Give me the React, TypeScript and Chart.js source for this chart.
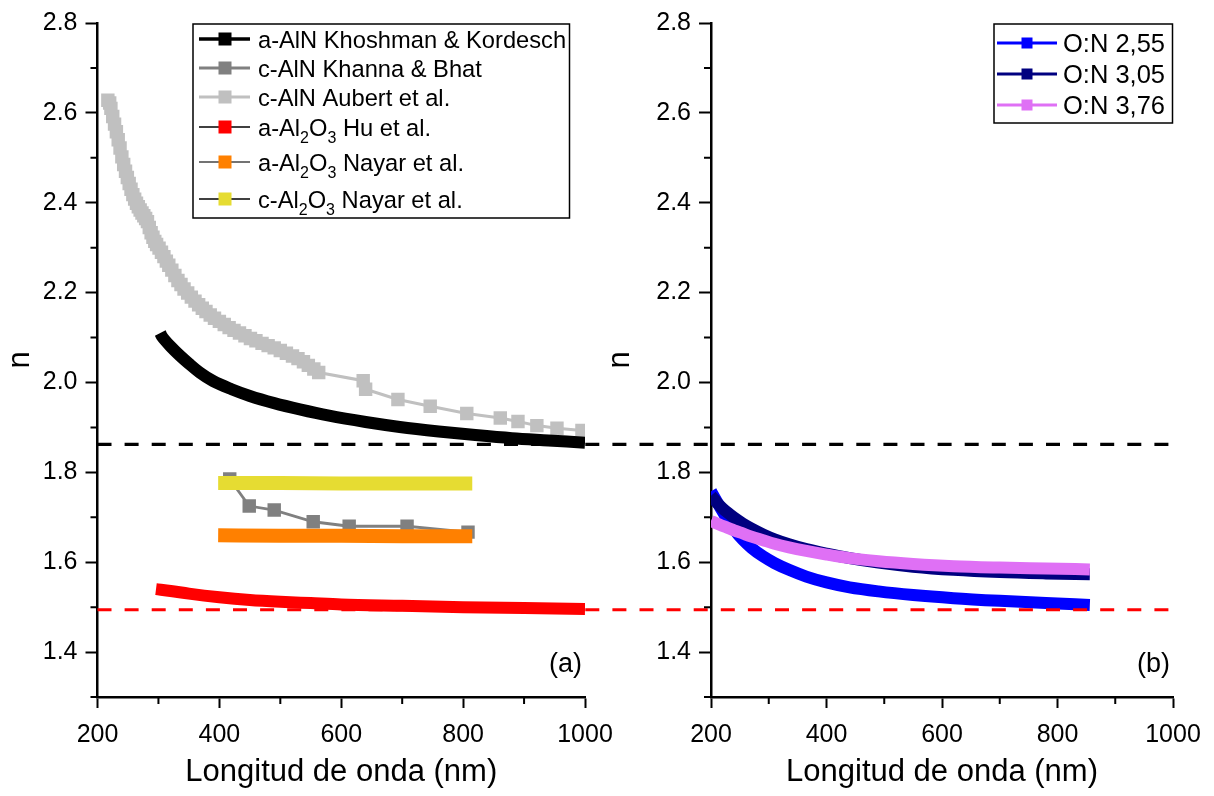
import React, { useEffect, useRef } from 'react';
import { Chart, registerables } from 'chart.js';

Chart.register(...registerables);

const FONT = '"Liberation Sans", Arial, Helvetica, sans-serif';

// ---- axes ----
const X_MIN = 200;
const X_MAX = 1000;
const Y_MIN = 1.3;
const Y_MAX = 2.8;
const X_TICKS = [200, 400, 600, 800, 1000];
const X_MINOR = [300, 500, 700, 900];
const Y_TICKS = [1.4, 1.6, 1.8, 2.0, 2.2, 2.4, 2.6, 2.8];
const Y_MINOR = [1.3, 1.5, 1.7, 1.9, 2.1, 2.3, 2.5, 2.7];
const X_TITLE = 'Longitud de onda (nm)';
const Y_TITLE = 'n';

// ---- reference (bulk) lines ----
const REF_ALN = 1.862;
const REF_AL2O3 = 1.494;

// ---- panel (a) ----
const KHOSHMAN_NM = [303, 306, 310, 320, 335, 350, 368, 390, 420, 450, 490, 532, 580, 640, 696, 760, 820, 880, 940, 1000];
const KHOSHMAN_N = [2.110, 2.102, 2.095, 2.080, 2.060, 2.042, 2.022, 2.003, 1.985, 1.970, 1.954, 1.940, 1.926, 1.912, 1.901, 1.891, 1.883, 1.876, 1.871, 1.866];

const KHANNA_NM = [417, 449, 490, 554, 613, 708, 808];
const KHANNA_N = [1.785, 1.725, 1.716, 1.690, 1.680, 1.680, 1.667];

const AUBERT_NM = [
  217, 220, 222, 225, 228, 231, 234, 237, 240, 243, 246, 249, 252, 255, 258, 261, 264, 267, 270, 273,
  276, 279, 282, 285, 288, 291, 294, 297, 301, 305, 309, 313, 317, 322, 327, 332, 337, 342, 348, 354,
  360, 366, 372, 378, 385, 392, 400, 408, 416, 424, 433, 442, 451, 460, 470, 480, 490, 500, 510, 520,
  529, 538, 546, 555, 563, 636, 640, 693, 746, 806, 861, 890, 921, 954, 995,
];
const AUBERT_N = [
  2.628, 2.622, 2.610, 2.592, 2.575, 2.558, 2.540, 2.522, 2.502, 2.485, 2.470, 2.456, 2.443, 2.430, 2.418, 2.408, 2.399, 2.391, 2.384, 2.377,
  2.371, 2.365, 2.358, 2.345, 2.333, 2.323, 2.314, 2.307, 2.299, 2.290, 2.280, 2.270, 2.261, 2.250, 2.238, 2.227, 2.218, 2.208, 2.199, 2.190,
  2.181, 2.173, 2.165, 2.158, 2.150, 2.143, 2.136, 2.129, 2.122, 2.116, 2.110, 2.104, 2.098, 2.093, 2.087, 2.082, 2.077, 2.071, 2.065, 2.059,
  2.053, 2.046, 2.038, 2.030, 2.022, 2.004, 1.985, 1.962, 1.947, 1.931, 1.921, 1.913, 1.904, 1.898, 1.893,
];

const HU_NM = [296, 320, 350, 400, 450, 500, 550, 600, 700, 800, 900, 1000];
const HU_N = [1.540, 1.536, 1.530, 1.522, 1.516, 1.512, 1.509, 1.506, 1.503, 1.500, 1.498, 1.496];

const NAYAR_NM = [398, 500, 600, 700, 815];
const NAYAR_A_N = [1.660, 1.659, 1.659, 1.658, 1.658];
const NAYAR_C_N = [1.776, 1.776, 1.775, 1.775, 1.775];

// ---- panel (b) ----
const ON_NM = [200, 210, 220, 230, 240, 255, 270, 290, 310, 335, 365, 400, 440, 490, 550, 620, 700, 780, 856];
const ON255_N = [1.758, 1.735, 1.713, 1.692, 1.673, 1.650, 1.632, 1.613, 1.598, 1.583, 1.568, 1.555, 1.544, 1.535, 1.527, 1.520, 1.514, 1.509, 1.505];
const ON305_N = [1.748, 1.733, 1.720, 1.709, 1.699, 1.686, 1.675, 1.662, 1.651, 1.640, 1.629, 1.619, 1.609, 1.599, 1.590, 1.583, 1.578, 1.575, 1.573];
const ON376_N = [1.692, 1.686, 1.681, 1.676, 1.671, 1.664, 1.657, 1.649, 1.641, 1.633, 1.625, 1.617, 1.609, 1.602, 1.596, 1.591, 1.588, 1.586, 1.584];

const LEFT_LABELS = [
  'a-AlN Khoshman & Kordesch',
  'c-AlN Khanna & Bhat',
  'c-AlN Aubert et al.',
  'a-Al₂O₃ Hu et al.',
  'a-Al₂O₃ Nayar et al.',
  'c-Al₂O₃ Nayar et al.',
];
const RIGHT_LABELS = ['O:N 2,55', 'O:N 3,05', 'O:N 3,76'];

const zip = (xs: number[], ys: number[]) => xs.map((x, i) => ({ x, y: ys[i] }));

function drawRichText(ctx: CanvasRenderingContext2D, text: string, x: number, yMid: number, size: number) {
  const base = yMid + size * 0.36;
  const subSize = Math.round(size * 0.66);
  let cx = x;
  const parts = text.split(/([₀-₉]+)/);
  ctx.textAlign = 'left';
  ctx.textBaseline = 'alphabetic';
  for (const p of parts) {
    if (!p) continue;
    if (/^[₀-₉]+$/.test(p)) {
      const digits = Array.from(p).map((c) => String.fromCharCode(c.charCodeAt(0) - 0x2080 + 48)).join('');
      ctx.font = `${subSize}px ${FONT}`;
      ctx.fillText(digits, cx, base + size * 0.3);
      cx += ctx.measureText(digits).width;
    } else {
      ctx.font = `${size}px ${FONT}`;
      ctx.fillText(p, cx, base);
      cx += ctx.measureText(p).width;
    }
  }
}

type LegendEntry = { label: string; line: string; lineWidth: number; marker: string };
type LegendLayout = {
  box: [number, number, number, number];
  rows: number[];
  lineFrom: number;
  lineTo: number;
  markerX: number;
  markerSize: number;
  textX: number;
  fontSize: number;
};

function legendPlugin(entries: LegendEntry[], lay: LegendLayout) {
  return {
    id: 'customLegend',
    afterDraw(chart: any) {
      const { ctx, chartArea: ca } = chart;
      ctx.save();
      ctx.strokeStyle = '#000';
      ctx.lineWidth = 1.5;
      ctx.strokeRect(ca.left + lay.box[0], ca.top + lay.box[1], lay.box[2] - lay.box[0], lay.box[3] - lay.box[1]);
      entries.forEach((e, i) => {
        const y = ca.top + lay.rows[i];
        ctx.beginPath();
        ctx.strokeStyle = e.line;
        ctx.lineWidth = e.lineWidth;
        ctx.moveTo(ca.left + lay.lineFrom, y);
        ctx.lineTo(ca.left + lay.lineTo, y);
        ctx.stroke();
        ctx.fillStyle = e.marker;
        const s = lay.markerSize;
        ctx.fillRect(ca.left + lay.markerX - s / 2, y - s / 2, s, s);
        ctx.fillStyle = '#000';
        drawRichText(ctx, e.label, ca.left + lay.textX, y, lay.fontSize);
      });
      ctx.restore();
    },
  };
}

function panelLabelPlugin(text: string) {
  return {
    id: 'panelLabel',
    afterDraw(chart: any) {
      const { ctx, chartArea: ca } = chart;
      ctx.save();
      ctx.fillStyle = '#000';
      ctx.font = `27px ${FONT}`;
      ctx.textAlign = 'right';
      ctx.textBaseline = 'middle';
      ctx.fillText(text, ca.right - 3, ca.bottom - 32);
      ctx.restore();
    },
  };
}

const minorTicksPlugin = {
  id: 'minorTicks',
  afterDraw(chart: any) {
    const { ctx, chartArea: ca, scales } = chart;
    ctx.save();
    ctx.strokeStyle = '#000';
    ctx.lineWidth = 2;
    ctx.beginPath();
    X_MINOR.forEach((v) => {
      const px = scales.x.getPixelForValue(v);
      ctx.moveTo(px, ca.bottom);
      ctx.lineTo(px, ca.bottom + 7);
    });
    Y_MINOR.forEach((v) => {
      const py = scales.y.getPixelForValue(v);
      ctx.moveTo(ca.left - 7, py);
      ctx.lineTo(ca.left, py);
    });
    ctx.stroke();
    ctx.restore();
  },
};

function makeScales(yWidth: number) {
  return {
    x: {
      type: 'linear',
      min: X_MIN,
      max: X_MAX,
      afterFit: (s: any) => {
        s.height = 99;
      },
      afterBuildTicks: (s: any) => {
        s.ticks = X_TICKS.map((v) => ({ value: v }));
      },
      border: { display: true, color: '#000', width: 2.5 },
      grid: { display: true, drawOnChartArea: false, drawTicks: true, tickLength: 11, tickWidth: 2, tickColor: '#000' },
      ticks: {
        color: '#000',
        font: { family: FONT, size: 25 },
        padding: 12,
        maxRotation: 0,
        minRotation: 0,
        autoSkip: false,
        callback: (v: any) => String(v),
      },
      title: { display: true, text: X_TITLE, color: '#000', font: { family: FONT, size: 31 }, padding: { top: 0, bottom: 5 } },
    },
    y: {
      type: 'linear',
      min: Y_MIN,
      max: Y_MAX,
      afterFit: (s: any) => {
        s.width = yWidth;
      },
      afterBuildTicks: (s: any) => {
        s.ticks = Y_TICKS.map((v) => ({ value: v }));
      },
      border: { display: true, color: '#000', width: 2.5 },
      grid: { display: true, drawOnChartArea: false, drawTicks: true, tickLength: 12, tickWidth: 2, tickColor: '#000' },
      ticks: {
        color: '#000',
        font: { family: FONT, size: 25 },
        padding: 8,
        autoSkip: false,
        callback: (v: any) => Number(v).toFixed(1),
      },
      title: { display: true, text: Y_TITLE, color: '#000', font: { family: FONT, size: 31 }, padding: { top: 2, bottom: 0 } },
    },
  };
}

const bandLine = (label: string, data: any[], color: string, width: number, order: number) => ({
  label,
  data,
  borderColor: color,
  backgroundColor: color,
  borderWidth: width,
  borderCapStyle: 'butt',
  pointRadius: 0,
  cubicInterpolationMode: 'monotone',
  order,
  clip: 0,
});

export default function App() {
  const leftRef = useRef<HTMLCanvasElement>(null);
  const rightRef = useRef<HTMLCanvasElement>(null);

  useEffect(() => {
    if (!leftRef.current || !rightRef.current) return;

    const leftEntries: LegendEntry[] = [
      { label: LEFT_LABELS[0], line: '#000000', lineWidth: 3.5, marker: '#000000' },
      { label: LEFT_LABELS[1], line: '#808080', lineWidth: 3, marker: '#808080' },
      { label: LEFT_LABELS[2], line: '#c0c0c0', lineWidth: 3, marker: '#c0c0c0' },
      { label: LEFT_LABELS[3], line: '#000000', lineWidth: 1.3, marker: '#ff0000' },
      { label: LEFT_LABELS[4], line: '#444444', lineWidth: 1.3, marker: '#ff8000' },
      { label: LEFT_LABELS[5], line: '#000000', lineWidth: 1.3, marker: '#e6dc32' },
    ];

    const left = new Chart(leftRef.current, {
      type: 'line',
      data: {
        datasets: [
          bandLine(LEFT_LABELS[0], zip(KHOSHMAN_NM, KHOSHMAN_N), '#000000', 12, 3) as any,
          {
            label: LEFT_LABELS[1],
            data: zip(KHANNA_NM, KHANNA_N),
            borderColor: '#808080',
            backgroundColor: '#808080',
            borderWidth: 2.8,
            pointStyle: 'rect',
            pointRadius: 9.5,
            pointBorderWidth: 0,
            order: 2,
          },
          {
            label: LEFT_LABELS[2],
            data: zip(AUBERT_NM, AUBERT_N),
            borderColor: '#c0c0c0',
            backgroundColor: '#c0c0c0',
            borderWidth: 3,
            pointStyle: 'rect',
            pointRadius: 9.5,
            pointBorderWidth: 0,
            order: 4,
          },
          bandLine(LEFT_LABELS[3], zip(HU_NM, HU_N), '#ff0000', 12, 3) as any,
          bandLine(LEFT_LABELS[4], zip(NAYAR_NM, NAYAR_A_N), '#ff8000', 14, 0) as any,
          bandLine(LEFT_LABELS[5], zip(NAYAR_NM, NAYAR_C_N), '#e6dc32', 14, 0) as any,
        ],
      },
      options: {
        responsive: false,
        animation: false,
        events: [],
        layout: { padding: { left: 0, top: 19, right: 1214 - 585, bottom: 0 } },
        plugins: { legend: { display: false }, tooltip: { enabled: false } },
        scales: makeScales(97.5) as any,
      },
      plugins: [
        minorTicksPlugin,
        panelLabelPlugin('(a)'),
        legendPlugin(leftEntries, {
          box: [95.5, 1, 472, 195],
          rows: [16, 45, 74, 104, 139, 176],
          lineFrom: 101.5,
          lineTo: 152.5,
          markerX: 127.5,
          markerSize: 13,
          textX: 160.5,
          fontSize: 23.7,
        }),
      ],
    } as any);

    const rightEntries: LegendEntry[] = [
      { label: RIGHT_LABELS[0], line: '#0000ff', lineWidth: 3, marker: '#0000ff' },
      { label: RIGHT_LABELS[1], line: '#000080', lineWidth: 3, marker: '#000080' },
      { label: RIGHT_LABELS[2], line: '#df70f5', lineWidth: 3, marker: '#df70f5' },
    ];

    const refLinesPlugin = {
      id: 'refLines',
      afterDatasetsDraw(chart: any) {
        const { ctx } = chart;
        const x0 = left.scales.x.getPixelForValue(X_MIN);
        const x1 = chart.scales.x.getPixelForValue(X_MAX);
        const draw = (v: number, color: string, w: number) => {
          const y = chart.scales.y.getPixelForValue(v);
          ctx.save();
          ctx.strokeStyle = color;
          ctx.lineWidth = w;
          ctx.setLineDash([14, 13.1]);
          ctx.beginPath();
          ctx.moveTo(x0, y);
          ctx.lineTo(x1, y);
          ctx.stroke();
          ctx.restore();
        };
        draw(REF_ALN, '#000000', 3.2);
        draw(REF_AL2O3, '#ff0000', 3);
      },
    };

    const right = new Chart(rightRef.current, {
      type: 'line',
      data: {
        datasets: [
          bandLine(RIGHT_LABELS[0], zip(ON_NM, ON255_N), '#0000ff', 12, 2) as any,
          bandLine(RIGHT_LABELS[1], zip(ON_NM, ON305_N), '#000080', 12, 1) as any,
          bandLine(RIGHT_LABELS[2], zip(ON_NM, ON376_N), '#df70f5', 12, 0) as any,
        ],
      },
      options: {
        responsive: false,
        animation: false,
        events: [],
        layout: { padding: { left: 600, top: 19, right: 1214 - 1173, bottom: 0 } },
        plugins: { legend: { display: false }, tooltip: { enabled: false } },
        scales: makeScales(111) as any,
      },
      plugins: [
        minorTicksPlugin,
        refLinesPlugin,
        panelLabelPlugin('(b)'),
        legendPlugin(rightEntries, {
          box: [283, 1, 461.5, 100],
          rows: [20, 51, 82],
          lineFrom: 286,
          lineTo: 346,
          markerX: 316,
          markerSize: 11,
          textX: 352,
          fontSize: 25.5,
        }),
      ],
    } as any);

    return () => {
      right.destroy();
      left.destroy();
    };
  }, []);

  return (
    <div style={{ position: 'fixed', left: 0, top: 0, width: 1214, height: 796, background: '#ffffff' }}>
      <canvas ref={leftRef} width={1214} height={796} style={{ position: 'absolute', left: 0, top: 0 }} />
      <canvas ref={rightRef} width={1214} height={796} style={{ position: 'absolute', left: 0, top: 0 }} />
    </div>
  );
}
